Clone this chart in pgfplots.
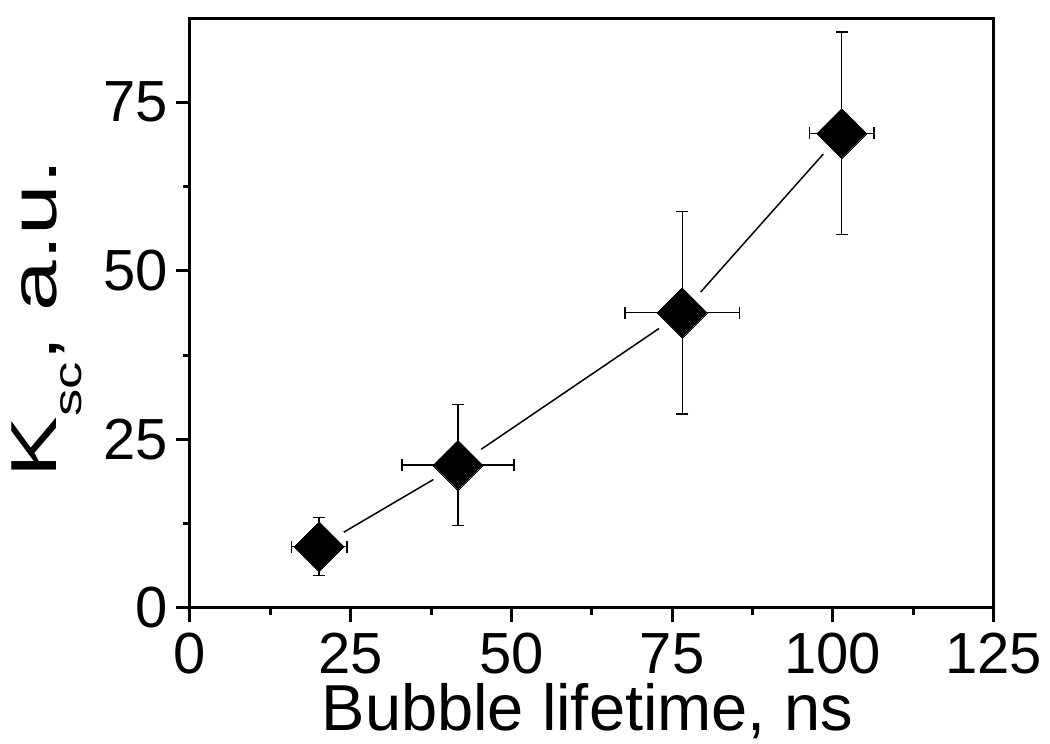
\documentclass[border=0pt]{standalone}
\usepackage{fontspec}
\setmainfont{Liberation Sans}
\usepackage{pgfplots}
\pgfplotsset{compat=1.18}
\usepackage{pgfplotstable}

\pgfplotstableread{
x y ex ey
20.1 9.1 4.3 4.3
41.7 21.2 8.7 9.0
76.6 43.8 8.9 15.0
101.4 70.4 5.0 15.0
}\datatable

\begin{document}
\begin{tikzpicture}
\begin{axis}[
  scale only axis,
  width=803.4pt, height=589.3pt,
  xmin=0, xmax=125, ymin=0, ymax=87.4,
  xtick={0,25,50,75,100,125},
  ytick={0,25,50,75},
  minor x tick num=1,
  minor y tick num=1,
  xtick pos=bottom, ytick pos=left,
  tick align=outside,
  major tick length=14pt,
  minor tick length=7pt,
  axis line style={line width=3pt},
  every tick/.style={black, line width=3pt},
  /pgf/number format/assume math mode=true,
  ticklabel style={font=\fontsize{58}{58}\selectfont, inner sep=0pt},
  xticklabel style={yshift=-11pt},
  yticklabel style={xshift=-8pt},
  xlabel={Bubble lifetime, ns},
  ylabel={\scalebox{1.4}[1]{K\raisebox{-25pt}{\fontsize{39}{39}\selectfont sc}, a.u.}},
  label style={font=\fontsize{65}{65}\selectfont, inner sep=0pt},
  xlabel style={at={(axis description cs:0.4945,-0.2071)}, anchor=base},
  ylabel style={at={(axis description cs:-0.1665,0.4915)}, anchor=base},
  clip=false,
]
\addplot[black, line width=1.5pt, no marks, shorten <=28.5pt, shorten >=28.5pt]
  coordinates {(20.1,9.1) (41.7,21.2)};
\addplot[black, line width=1.5pt, no marks, shorten <=28.1pt, shorten >=28.1pt]
  coordinates {(41.7,21.2) (76.6,43.8)};
\addplot[black, line width=1.5pt, no marks, shorten <=27.6pt, shorten >=27.6pt]
  coordinates {(76.6,43.8) (101.4,70.4)};
\addplot[only marks, mark=square*, mark size=17.7pt,
  mark options={black, fill=black, rotate=45, line width=0pt},
  error bars/.cd,
    x dir=both, x explicit,
    y dir=both, y explicit,
    error bar style={line width=1.5pt, black},
    error mark options={line width=1.5pt, black, mark size=6pt, rotate=90},
  ] table[x=x,y=y,x error=ex,y error=ey] {\datatable};
\end{axis}
\pgfresetboundingbox
\path ([shift={(-190pt,-136pt)}]current axis.south west) rectangle ++(1050pt,744pt);
\end{tikzpicture}
\end{document}
